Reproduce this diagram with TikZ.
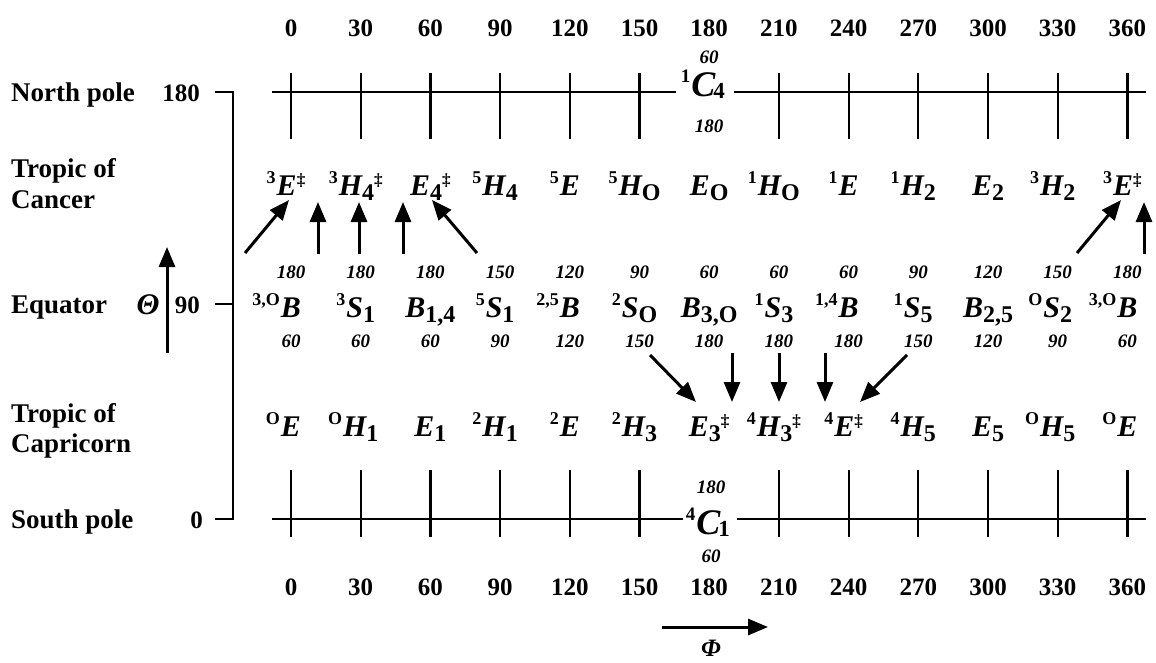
\documentclass[tikz,border=0pt]{standalone}
\usepackage{fontspec}
\setmainfont{Liberation Serif}
\usetikzlibrary{arrows.meta}

\newcommand\Sy[1]{{\fontsize{30}{30}\selectfont\bfseries\itshape #1}}
\newcommand\Cy[1]{{\fontsize{36}{36}\selectfont\bfseries\itshape #1}}
\newcommand\Pre[1]{\llap{\raisebox{12pt}{\fontsize{18}{18}\selectfont\bfseries #1}\kern1pt}}
\newcommand\CPre[1]{\llap{\raisebox{14pt}{\fontsize{19}{19}\selectfont\bfseries #1}\kern1pt}}
\newcommand\Sub[1]{\raisebox{-5pt}{\fontsize{24}{24}\selectfont\bfseries #1}}
\newcommand\CSub[1]{\kern-2pt\raisebox{-2pt}{\fontsize{23}{23}\selectfont\bfseries #1}}
\newcommand\Dg{\raisebox{10pt}{\fontsize{17}{17}\selectfont\bfseries ‡}}

\tikzset{
  sym/.style={inner sep=0pt, anchor=base},
  smallnum/.style={inner sep=0pt, anchor=base, font=\fontsize{19}{19}\selectfont\bfseries\itshape},
  axnum/.style={inner sep=0pt, anchor=base, font=\fontsize{25}{25}\selectfont\bfseries},
  rowlab/.style={inner sep=0pt, anchor=base west, font=\fontsize{27}{27}\selectfont\bfseries},
  ylab/.style={inner sep=0pt, anchor=base east, font=\fontsize{25}{25}\selectfont\bfseries},
  greek/.style={inner sep=0pt, anchor=base, font=\fontsize{30}{30}\selectfont\bfseries\itshape},
  pline/.style={line width=2.6pt},
  tickline/.style={line width=2.2pt},
  arr/.style={line width=3pt, -{Triangle[length=20pt,width=16pt]}},
}

\begin{document}
\begin{tikzpicture}[x=1pt,y=-1pt]
\useasboundingbox (0,0) rectangle (1156,662);

% column axis labels
\foreach \i in {0,...,12}{
  \pgfmathtruncatemacro\v{30*\i}
  \node[axnum] (top\i) at ({291+69.7*\i},36) {\v};
  \node[axnum] (bot\i) at ({291+69.7*\i},595) {\v};
}

% row labels
\node[rowlab] (np) at (11,101) {North pole};
\node[ylab] (y180) at (200,101) {180};
\node[rowlab] (tc1) at (11,177) {Tropic of};
\node[rowlab] (tc2) at (11,208) {Cancer};
\node[rowlab] (eqlab) at (11,313) {Equator};
\node[greek] (theta) at (148,314) {Θ};
\node[ylab] (y90) at (200,313) {90};
\node[rowlab] (tp1) at (11,422) {Tropic of};
\node[rowlab] (tp2) at (11,452) {Capricorn};
\node[rowlab] (sp) at (11,528) {South pole};
\node[ylab] (y0) at (203,528) {0};

% bracket
\coordinate (b1) at (215,92);
\coordinate (b2) at (233,92);
\coordinate (b3) at (233,519);
\coordinate (b4) at (215,519);
\coordinate (b5) at (215,304);
\coordinate (b6) at (233,304);
\draw[tickline] (b1) -- (b2) -- (b3) -- (b4);
\draw[tickline] (b5) -- (b6);

% Theta and Phi arrows
\coordinate (th0) at (167,353);
\coordinate (th1) at (167,247);
\draw[arr] (th0) -- (th1);
\coordinate (ph0) at (662,627);
\coordinate (ph1) at (768,627);
\draw[arr] (ph0) -- (ph1);
\node[inner sep=0pt, anchor=base, font=\fontsize{25}{25}\selectfont\bfseries\itshape] (phi) at (711,656) {Φ};

% North pole line
\coordinate (nl0) at (272,92);
\coordinate (nl1) at (676,92);
\coordinate (nl2) at (734,92);
\coordinate (nl3) at (1146,92);
\draw[pline] (nl0) -- (nl1);
\draw[pline] (nl2) -- (nl3);
\foreach \i in {0,1,2,3,4,5,7,8,9,10,11,12}{
  \draw[tickline] ({291+69.7*\i},73) -- ({291+69.7*\i},139);
}
\node[sym] (C4) at (708,96) {\CPre{1}\Cy{C}\CSub{4}};
\node[smallnum] (C4a) at (709,63) {60};
\node[smallnum] (C4b) at (709,132) {180};

% South pole line
\coordinate (sl0) at (272,519);
\coordinate (sl1) at (683,519);
\coordinate (sl2) at (737,519);
\coordinate (sl3) at (1146,519);
\draw[pline] (sl0) -- (sl1);
\draw[pline] (sl2) -- (sl3);
\foreach \i in {0,1,2,3,4,5,7,8,9,10,11,12}{
  \draw[tickline] ({291+69.7*\i},470) -- ({291+69.7*\i},537);
}
\node[sym] (C1) at (713,534) {\CPre{4}\Cy{C}\CSub{1}};
\node[smallnum] (C1a) at (711,493) {180};
\node[smallnum] (C1b) at (711,562) {60};

% Tropic of Cancer row
\node[sym] (ca0) at (291.0,195) {\Pre{3}\Sy{E}\Dg};
\node[sym] (ca1) at (360.7,195) {\Pre{3}\Sy{H}\Sub{4}\Dg};
\node[sym] (ca2) at (430.4,195) {\Sy{E}\Sub{4}\Dg};
\node[sym] (ca3) at (500.1,195) {\Pre{5}\Sy{H}\Sub{4}};
\node[sym] (ca4) at (569.8,195) {\Pre{5}\Sy{E}};
\node[sym] (ca5) at (639.5,195) {\Pre{5}\Sy{H}\Sub{O}};
\node[sym] (ca6) at (709.2,195) {\Sy{E}\Sub{O}};
\node[sym] (ca7) at (778.9,195) {\Pre{1}\Sy{H}\Sub{O}};
\node[sym] (ca8) at (848.6,195) {\Pre{1}\Sy{E}};
\node[sym] (ca9) at (918.3,195) {\Pre{1}\Sy{H}\Sub{2}};
\node[sym] (ca10) at (988.0,195) {\Sy{E}\Sub{2}};
\node[sym] (ca11) at (1057.7,195) {\Pre{3}\Sy{H}\Sub{2}};
\node[sym] (ca12) at (1127.4,195) {\Pre{3}\Sy{E}\Dg};

% Equator row
\node[sym] (eq0) at (291.0,317) {\Pre{3,O}\Sy{B}};
\node[sym] (eq1) at (360.7,317) {\Pre{3}\Sy{S}\Sub{1}};
\node[sym] (eq2) at (430.4,317) {\Sy{B}\Sub{1,4}};
\node[sym] (eq3) at (500.1,317) {\Pre{5}\Sy{S}\Sub{1}};
\node[sym] (eq4) at (569.8,317) {\Pre{2,5}\Sy{B}};
\node[sym] (eq5) at (639.5,317) {\Pre{2}\Sy{S}\Sub{O}};
\node[sym] (eq6) at (709.2,317) {\Sy{B}\Sub{3,O}};
\node[sym] (eq7) at (778.9,317) {\Pre{1}\Sy{S}\Sub{3}};
\node[sym] (eq8) at (848.6,317) {\Pre{1,4}\Sy{B}};
\node[sym] (eq9) at (918.3,317) {\Pre{1}\Sy{S}\Sub{5}};
\node[sym] (eq10) at (988.0,317) {\Sy{B}\Sub{2,5}};
\node[sym] (eq11) at (1057.7,317) {\Pre{O}\Sy{S}\Sub{2}};
\node[sym] (eq12) at (1127.4,317) {\Pre{3,O}\Sy{B}};

\foreach \i/\a/\b in {0/180/60,1/180/60,2/180/60,3/150/90,4/120/120,5/90/150,6/60/180,7/60/180,8/60/180,9/90/150,10/120/120,11/150/90,12/180/60}{
  \node[smallnum] (eqa\i) at ({291+69.7*\i},278) {\a};
  \node[smallnum] (eqb\i) at ({291+69.7*\i},347) {\b};
}

% Tropic of Capricorn row
\node[sym] (cp0) at (291.0,436) {\Pre{O}\Sy{E}};
\node[sym] (cp1) at (360.7,436) {\Pre{O}\Sy{H}\Sub{1}};
\node[sym] (cp2) at (430.4,436) {\Sy{E}\Sub{1}};
\node[sym] (cp3) at (500.1,436) {\Pre{2}\Sy{H}\Sub{1}};
\node[sym] (cp4) at (569.8,436) {\Pre{2}\Sy{E}};
\node[sym] (cp5) at (639.5,436) {\Pre{2}\Sy{H}\Sub{3}};
\node[sym] (cp6) at (709.2,436) {\Sy{E}\Sub{3}\Dg};
\node[sym] (cp7) at (778.9,436) {\Pre{4}\Sy{H}\Sub{3}\Dg};
\node[sym] (cp8) at (848.6,436) {\Pre{4}\Sy{E}\Dg};
\node[sym] (cp9) at (918.3,436) {\Pre{4}\Sy{H}\Sub{5}};
\node[sym] (cp10) at (988.0,436) {\Sy{E}\Sub{5}};
\node[sym] (cp11) at (1057.7,436) {\Pre{O}\Sy{H}\Sub{5}};
\node[sym] (cp12) at (1127.4,436) {\Pre{O}\Sy{E}};

% upper arrows (Equator -> Tropic of Cancer)
\coordinate (u1t) at (245,253); \coordinate (u1h) at (289,200);
\coordinate (u2t) at (318,254); \coordinate (u2h) at (318,202);
\coordinate (u3t) at (359,254); \coordinate (u3h) at (359,202);
\coordinate (u4t) at (403,254); \coordinate (u4h) at (403,202);
\coordinate (u5t) at (477,253); \coordinate (u5h) at (432,200);
\coordinate (u6t) at (1077,253); \coordinate (u6h) at (1121,200);
\coordinate (u7t) at (1144,254); \coordinate (u7h) at (1144,202);
\foreach \k in {1,...,7}{ \draw[arr] (u\k t) -- (u\k h); }

% lower arrows (Equator -> Tropic of Capricorn)
\coordinate (d1t) at (650,355); \coordinate (d1h) at (696,402);
\coordinate (d2t) at (732,353); \coordinate (d2h) at (732,402);
\coordinate (d3t) at (779,353); \coordinate (d3h) at (779,402);
\coordinate (d4t) at (825,353); \coordinate (d4h) at (825,402);
\coordinate (d5t) at (907,355); \coordinate (d5h) at (860,402);
\foreach \k in {1,...,5}{ \draw[arr] (d\k t) -- (d\k h); }
\end{tikzpicture}
\end{document}
